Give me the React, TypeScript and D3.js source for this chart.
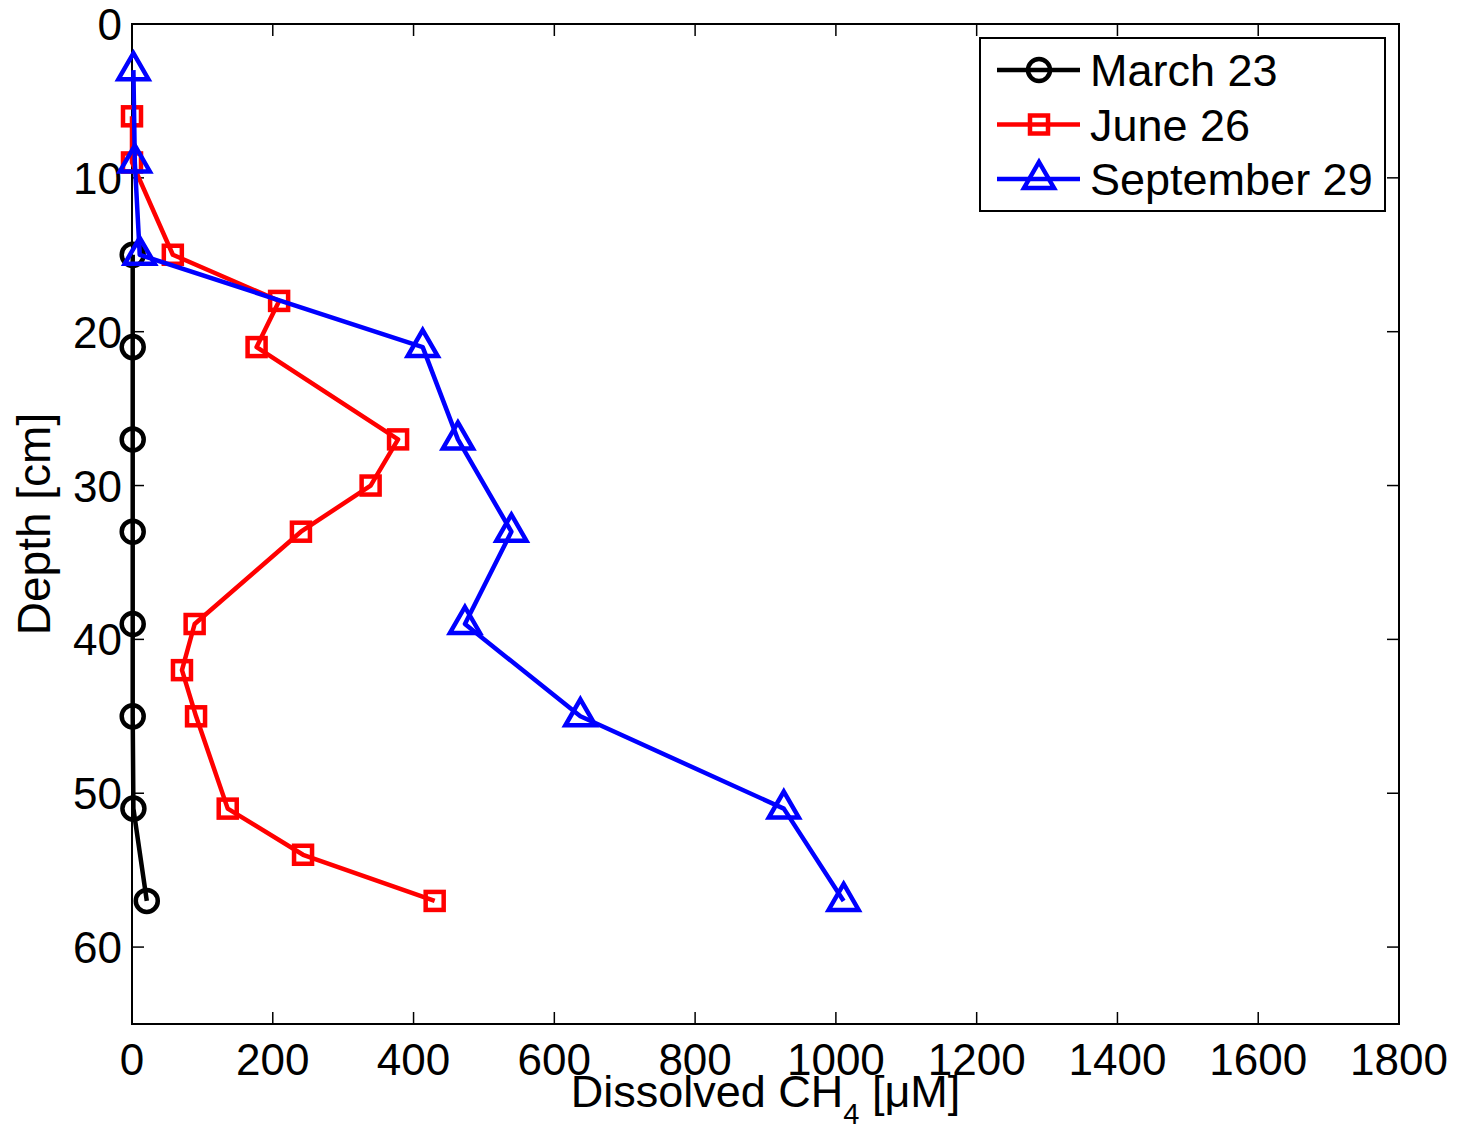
import { useEffect, useRef } from 'react';
import * as d3 from 'd3';

// depth [cm] and dissolved CH4 [uM]
const marchDepth = [15, 21, 27, 33, 39, 45, 51, 57];
const marchCH4 = [1, 1, 1, 1, 1, 1, 2, 21];

const juneDepth = [6, 9, 15, 18, 21, 27, 30, 33, 39, 42, 45, 51, 54, 57];
const juneCH4 = [0, 0, 58, 209, 177, 378, 339, 240, 89, 71, 91, 136, 243, 430];

const septDepth = [3, 9, 15, 21, 27, 33, 39, 45, 51, 57];
const septCH4 = [2, 4, 11, 413, 463, 539, 473, 637, 926, 1011];

const xTicks = [0, 200, 400, 600, 800, 1000, 1200, 1400, 1600, 1800];
const yTicks = [0, 10, 20, 30, 40, 50, 60];

const seriesNames = ['March 23', 'June 26', 'September 29'];
const seriesColors = ['#000000', '#ff0000', '#0000ff'];
const seriesMarkers = ['circle', 'square', 'triangle'];

const W = 1457;
const H = 1128;
const FONT = 'Liberation Sans, Arial, Helvetica, sans-serif';

const App = () => {
  const svgRef = useRef(null);

  useEffect(() => {
    const svg = d3.select(svgRef.current);
    svg.selectAll('*').remove();

    const left = 132, right = 1399, top = 24, bottom = 1024;

    const x = d3.scaleLinear().domain([0, 1800]).range([left, right]);
    const y = d3.scaleLinear().domain([0, 65]).range([top, bottom]);

    svg.append('rect').attr('width', W).attr('height', H).attr('fill', '#fff');

    // ticks (inward, mirrored on all four sides)
    const tickLen = 12;
    const tg = svg.append('g').attr('stroke', '#000').attr('stroke-width', 1.5);
    xTicks.forEach(t => {
      tg.append('line').attr('x1', x(t)).attr('x2', x(t)).attr('y1', bottom).attr('y2', bottom - tickLen);
      tg.append('line').attr('x1', x(t)).attr('x2', x(t)).attr('y1', top).attr('y2', top + tickLen);
    });
    yTicks.forEach(t => {
      tg.append('line').attr('y1', y(t)).attr('y2', y(t)).attr('x1', left).attr('x2', left + tickLen);
      tg.append('line').attr('y1', y(t)).attr('y2', y(t)).attr('x1', right).attr('x2', right - tickLen);
    });

    svg.append('rect')
      .attr('x', left).attr('y', top)
      .attr('width', right - left).attr('height', bottom - top)
      .attr('fill', 'none').attr('stroke', '#000').attr('stroke-width', 2);

    // tick labels
    svg.append('g').selectAll('text').data(xTicks).join('text')
      .attr('x', d => x(d)).attr('y', bottom + 51)
      .attr('text-anchor', 'middle')
      .attr('font-family', FONT).attr('font-size', 44)
      .text(d => d);

    svg.append('g').selectAll('text').data(yTicks).join('text')
      .attr('x', left - 10).attr('y', d => y(d) + 16)
      .attr('text-anchor', 'end')
      .attr('font-family', FONT).attr('font-size', 44)
      .text(d => d);

    // axis labels
    const xl = svg.append('text')
      .attr('x', (left + right) / 2).attr('y', 1107)
      .attr('text-anchor', 'middle')
      .attr('font-family', FONT).attr('font-size', 45);
    xl.append('tspan').text('Dissolved CH');
    xl.append('tspan').attr('font-size', 29).attr('dy', 17).text('4');
    xl.append('tspan').attr('dy', -17).text(' [\u03bcM]');

    svg.append('text')
      .attr('transform', `translate(50,${(top + bottom) / 2}) rotate(-90)`)
      .attr('text-anchor', 'middle')
      .attr('font-family', FONT).attr('font-size', 46)
      .text('Depth [cm]');

    // markers
    const drawMarker = (g: any, kind: string, cx: number, cy: number, color: string) => {
      if (kind === 'circle') {
        g.append('circle').attr('cx', cx).attr('cy', cy).attr('r', 11)
          .attr('fill', 'none').attr('stroke', color).attr('stroke-width', 4.5);
      } else if (kind === 'square') {
        g.append('rect').attr('x', cx - 9).attr('y', cy - 9).attr('width', 18).attr('height', 18)
          .attr('fill', 'none').attr('stroke', color).attr('stroke-width', 4.5);
      } else {
        g.append('path')
          .attr('d', `M${cx},${cy - 17}L${cx + 15},${cy + 9}L${cx - 15},${cy + 9}Z`)
          .attr('fill', 'none').attr('stroke', color).attr('stroke-width', 4.5)
          .attr('stroke-linejoin', 'miter');
      }
    };

    const series = [
      { vals: marchCH4, depth: marchDepth },
      { vals: juneCH4, depth: juneDepth },
      { vals: septCH4, depth: septDepth },
    ];

    const line = d3.line<[number, number]>().x(d => x(d[0])).y(d => y(d[1]));

    series.forEach((s, i) => {
      const pts: [number, number][] = s.vals.map((v, j) => [v, s.depth[j]]);
      const g = svg.append('g');
      g.append('path').attr('d', line(pts))
        .attr('fill', 'none').attr('stroke', seriesColors[i]).attr('stroke-width', 4.5)
        .attr('stroke-linejoin', 'round');
      pts.forEach(p => drawMarker(g, seriesMarkers[i], x(p[0]), y(p[1]), seriesColors[i]));
    });

    // legend
    const lg = svg.append('g');
    lg.append('rect').attr('x', 980).attr('y', 38).attr('width', 405).attr('height', 173)
      .attr('fill', '#fff').attr('stroke', '#000').attr('stroke-width', 2);
    seriesNames.forEach((name, i) => {
      const ly = 70 + i * 54.5;
      lg.append('line').attr('x1', 997).attr('x2', 1080).attr('y1', ly).attr('y2', ly)
        .attr('stroke', seriesColors[i]).attr('stroke-width', 4.5);
      drawMarker(lg, seriesMarkers[i], 1039, ly, seriesColors[i]);
      lg.append('text').attr('x', 1090).attr('y', ly + 16)
        .attr('font-family', FONT).attr('font-size', 45)
        .text(name);
    });
  }, []);

  return (
    <svg
      ref={svgRef}
      width={W}
      height={H}
      style={{ position: 'absolute', left: 0, top: 0, display: 'block' }}
    />
  );
};

export default App;
